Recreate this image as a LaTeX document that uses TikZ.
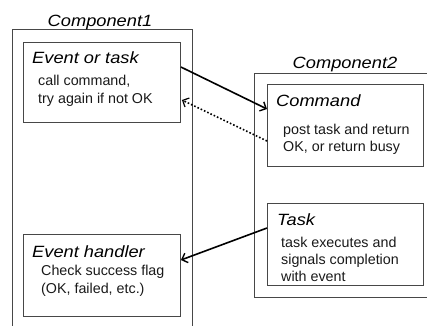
\documentclass[tikz,border=0pt]{standalone}
\usepackage{fontspec}
\setmainfont{Liberation Sans}
\newfontfamily\headfont{Liberation Sans}[FakeStretch=1.12]
\usetikzlibrary{arrows.meta,calc}
\begin{document}
\begin{tikzpicture}[x=1pt,y=-1pt,
  box/.style={draw=black!72,line width=0.9pt,rectangle,anchor=north west,inner sep=0pt},
  frame/.style={draw=black!72,line width=0.9pt},
  title/.style={inner sep=0pt,anchor=base,font=\headfont\itshape\fontsize{16.3}{18}\selectfont},
  head/.style={inner sep=0pt,anchor=base west,font=\headfont\itshape\fontsize{16.3}{18}\selectfont},
  body/.style={inner sep=0pt,anchor=base west,font=\fontsize{14.3}{17}\selectfont,text=black!90},
  arrow/.style={line width=1.6pt,-{Straight Barb[length=5pt,width=10pt,line width=1.4pt]}},
  dotarrow/.style={line width=1.6pt,dotted,-{Straight Barb[length=5pt,width=10pt,line width=1.2pt]}}
]
\useasboundingbox (0,0) rectangle (427,325);
% outer component frames (cut off by the page)
\draw[frame] (12,330) -- (12,29) -- (192,29) -- (192,330);
\draw[frame] (440,73) -- (254,73) -- (254,297) -- (440,297);
\node[title] (c1T) at (100,26) {Component1};
\node[title] (c2T) at (345,68) {Component2};
% inner boxes
\node[box,minimum width=157pt,minimum height=80pt] (evt) at (23,42) {};
\node[box,minimum width=157pt,minimum height=82pt] (eh) at (23,234) {};
\node[box,minimum width=156pt,minimum height=82pt] (cmd) at (267,84) {};
\node[box,minimum width=156pt,minimum height=82pt] (task) at (267,203) {};
% texts
\node[head] (evtH) at (32,63) {Event or task};
\node[body] (evtA) at (38,85) {call command,};
\node[body] (evtB) at (38,103) {try again if not OK};
\node[head] (cmdH) at (276,106) {Command};
\node[body] (cmdA) at (283,134) {post task and return};
\node[body] (cmdB) at (283,151) {OK, or return busy};
\node[head] (taskH) at (277,225) {Task};
\node[body] (taskA) at (281,247) {task executes and};
\node[body] (taskB) at (281,264) {signals completion};
\node[body] (taskC) at (281,281) {with event};
\node[head] (ehH) at (32,257) {Event handler};
\node[body] (ehA) at (41,275) {Check success flag};
\node[body] (ehB) at (41,293) {(OK, failed, etc.)};
% connectors
\draw[arrow] ($(evt.north east)+(0,25)$) -- ($(cmd.north west)+(0,25)$);
\draw[dotarrow] ($(cmd.north west)+(0,57)$) -- ($(evt.north east)+(1,58)$);
\draw[arrow] ($(task.north west)+(0,25)$) -- ($(eh.north east)+(0,26)$);
\end{tikzpicture}
\end{document}
